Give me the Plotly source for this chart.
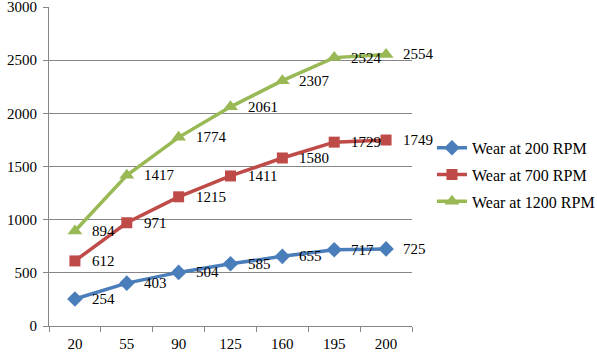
import plotly.graph_objects as go

categories = ["20", "55", "90", "125", "160", "195", "200"]
wear_200 = [254, 403, 504, 585, 655, 717, 725]
wear_700 = [612, 971, 1215, 1411, 1580, 1729, 1749]
wear_1200 = [894, 1417, 1774, 2061, 2307, 2524, 2554]
y_ticks = [0, 500, 1000, 1500, 2000, 2500, 3000]

series = [
    ("Wear at 200 RPM", wear_200, "#4A7EBB", "diamond", 12),
    ("Wear at 700 RPM", wear_700, "#BE4B48", "square", 11),
    ("Wear at 1200 RPM", wear_1200, "#98B954", "triangle-up", 13),
]

FONT = "Liberation Serif"

fig = go.Figure()
for i, (name, vals, color, sym, size) in enumerate(series):
    fig.add_trace(go.Scatter(
        x=categories, y=vals, name=name, mode="lines+markers",
        legendgroup="g%d" % i,
        line=dict(color=color, width=3.5),
        marker=dict(symbol=sym, size=size, color=color),
        cliponaxis=False,
    ))
    for idx, v in enumerate(vals):
        fig.add_annotation(x=idx, y=v, xref="x", yref="y", text=str(v),
                           showarrow=False, xanchor="left", yanchor="middle",
                           xshift=15,
                           font=dict(family=FONT, size=15, color="black"))

fig.update_layout(
    width=597, height=358,
    margin=dict(l=49, r=185, t=7, b=32, autoexpand=False),
    paper_bgcolor="white", plot_bgcolor="white",
    font=dict(family=FONT, size=15, color="black"),
    showlegend=True,
    legend=dict(x=1.055, y=0.474, xanchor="left", yanchor="middle",
                font=dict(family=FONT, size=16, color="black"),
                tracegroupgap=3, itemwidth=30),
    xaxis=dict(type="category", showgrid=False, showline=True, linecolor="#868686",
               linewidth=1, ticks="outside", tickson="boundaries", ticklen=5,
               tickcolor="#868686", range=[-0.5, 6.5], ticklabelstandoff=4,
               tickfont=dict(family=FONT, size=15, color="black")),
    yaxis=dict(range=[0, 3000], tickvals=y_ticks, showgrid=True, gridcolor="#868686",
               gridwidth=1, showline=True, linecolor="#868686", linewidth=1,
               ticks="outside", ticklen=5, tickcolor="#868686", zeroline=False,
               ticklabelstandoff=3, ticklabeloverflow="allow",
               tickfont=dict(family=FONT, size=15, color="black")),
)

fig.write_html("out.html")
